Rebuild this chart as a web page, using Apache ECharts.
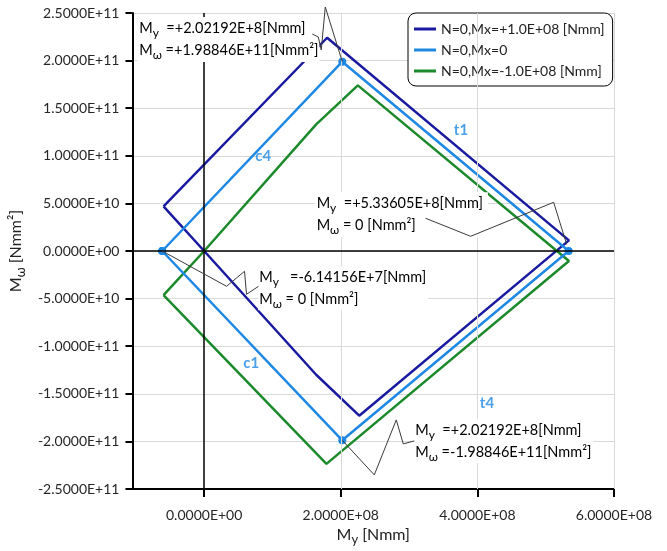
<!DOCTYPE html>
<html><head><meta charset="utf-8">
<script src="https://cdn.jsdelivr.net/npm/echarts@6/dist/echarts.min.js"></script>
<style>html,body{margin:0;padding:0;background:#fff}#c{width:667px;height:551px}</style>
</head><body><div id="c"></div>
<script>
// ---- data ----
const seriesNames = ['N=0,Mx=+1.0E+08 [Nmm]', 'N=0,Mx=0', 'N=0,Mx=-1.0E+08 [Nmm]'];
const mxPlusX  = [-5.95e7, 1.80e8, 5.34e8, 2.27e8, 1.64e8, 0, -5.95e7];
const mxPlusY  = [4.69e10, 2.24e11, 1.12e10, -1.73e11, -1.30e11, 0, 4.69e10];
const mxZeroX  = [-6.14156e7, 2.02192e8, 5.33605e8, 2.02192e8, -6.14156e7];
const mxZeroY  = [0, 1.98846e11, 0, -1.98846e11, 0];
const mxMinusX = [-5.95e7, 0, 1.64e8, 2.25e8, 5.34e8, 1.79e8, -5.95e7];
const mxMinusY = [-4.64e10, 0, 1.33e11, 1.74e11, -1.05e10, -2.236e11, -4.64e10];
const xTicks = [0, 2e8, 4e8, 6e8];
const xRange = [-1.05e8, 6e8];
const yRange = [-2.5e11, 2.5e11];
const yStep = 5e10;
const regionNames = ['t1', 'c4', 'c1', 't4'];
const regionX = [3.76e8, 0.866e8, 0.69e8, 4.14e8];
const regionY = [1.265e11, 0.993e11, -1.177e11, -1.597e11];

// ---- helpers ----
const font = 'Lato, "Liberation Sans", sans-serif';
const colors = ['#1a1aa0', '#1e88e5', '#1b8a2a'];
const toPairs = (xs, ys) => xs.map((x, i) => [x, ys[i]]);
function sci(v) {
  const s = Number(v).toExponential(4);
  let [m, e] = s.split('e');
  const sign = e[0] === '-' ? '-' : '+';
  let d = e.replace(/[+-]/, '');
  if (d.length < 2) d = '0' + d;
  return m + 'E' + sign + d;
}
const richBase = {
  m: { fontSize: 14.5, fontFamily: font, color: '#222', lineHeight: 22 },
  s: { fontSize: 12, fontFamily: font, color: '#222', lineHeight: 13, verticalAlign: 'bottom' }
};
const richName = {
  m: { fontSize: 16, fontFamily: font, color: '#222', lineHeight: 22 },
  s: { fontSize: 13, fontFamily: font, color: '#222', lineHeight: 13, verticalAlign: 'bottom' }
};

const chart = echarts.init(document.getElementById('c'));
const option = {
  animation: false,
  backgroundColor: '#fff',
  grid: { left: 131, right: 53, top: 13, bottom: 61, containLabel: false },
  legend: {
    data: seriesNames, orient: 'vertical', left: 408, top: 13,
    backgroundColor: '#fff', borderColor: '#000', borderWidth: 1, borderRadius: 8,
    padding: [8, 8, 7, 6], itemGap: 5, itemWidth: 22, itemHeight: 3, icon: 'rect',
    textStyle: { fontSize: 14, fontFamily: font, color: '#222', lineHeight: 16 }
  },
  xAxis: {
    type: 'value', min: xRange[0], max: xRange[1],
    axisLine: { onZero: false, lineStyle: { color: '#000', width: 2 } },
    axisTick: { show: true, customValues: xTicks, length: 8, lineStyle: { color: '#000', width: 2 } },
    axisLabel: { customValues: xTicks, formatter: sci, fontSize: 14, fontFamily: font, color: '#262626', margin: 19 },
    splitLine: { show: false },
    name: '{m|M}{s|y}{m| [Nmm]}', nameLocation: 'middle', nameGap: 35,
    nameTextStyle: { rich: richName }
  },
  yAxis: {
    type: 'value', min: yRange[0], max: yRange[1], interval: yStep,
    axisLine: { onZero: false, lineStyle: { color: '#000', width: 2 } },
    axisTick: { show: true, length: 7, lineStyle: { color: '#000', width: 2 } },
    axisLabel: { formatter: sci, fontSize: 14, fontFamily: font, color: '#262626', margin: 13 },
    splitLine: { show: true, lineStyle: { color: '#d9d9d9', width: 1 } },
    name: '{m|M}{s|ω}{m| [Nmm²]}', nameLocation: 'middle', nameGap: 96, nameRotate: 90,
    nameTextStyle: { rich: richName }
  },
  series: [
    {
      name: 'ref', type: 'line', data: [], z: 1, silent: true,
      markLine: {
        silent: true, symbol: 'none', label: { show: false }, animation: false,
        data: [
          ...xTicks.filter(v => v !== 0).map(v => ({ xAxis: v, lineStyle: { color: '#d9d9d9', width: 1, type: 'solid' } })),
          { xAxis: 0, lineStyle: { color: '#000', width: 1.5, type: 'solid' } },
          { yAxis: 0, lineStyle: { color: '#000', width: 1.5, type: 'solid' } }
        ]
      }
    },
    {
      name: seriesNames[0], type: 'line', data: toPairs(mxPlusX, mxPlusY), showSymbol: false, z: 3,
      lineStyle: { color: colors[0], width: 2.5 }, itemStyle: { color: colors[0] }
    },
    {
      name: seriesNames[1], type: 'line', data: toPairs(mxZeroX, mxZeroY), showSymbol: true,
      symbol: 'circle', symbolSize: 8, z: 4,
      lineStyle: { color: colors[1], width: 2.5 }, itemStyle: { color: colors[1] }
    },
    {
      name: seriesNames[2], type: 'line', data: toPairs(mxMinusX, mxMinusY), showSymbol: false, z: 3,
      lineStyle: { color: colors[2], width: 2.5 }, itemStyle: { color: colors[2] }
    },
    {
      name: 'regions', type: 'scatter', silent: true, symbolSize: 1, z: 5,
      itemStyle: { color: 'transparent' },
      data: regionNames.map((n, i) => ({ name: n, value: [regionX[i], regionY[i]] })),
      label: { show: true, position: 'inside', formatter: '{b}', color: colors[1], fontWeight: 'bold', fontSize: 15, fontFamily: font }
    }
  ]
};
chart.setOption(option);

// ---- callout annotations anchored on the light-blue vertices ----
const annotations = [
  { pt: [mxZeroX[1], mxZeroY[1]], sub: ['y', 'ω'], txt: ['  =+2.02192E+8[Nmm]', ' =+1.98846E+11[Nmm²]'],
    box: [-205, -44.7], pad: [0, 1, 1, 2],
    leader: [[-30, -27.7], [-24, -24.7], [-21, -11.7], [-17, -54.7], [0, 0]] },
  { pt: [mxZeroX[2], mxZeroY[2]], sub: ['y', 'ω'], txt: ['  =+5.33605E+8[Nmm]', ' = 0 [Nmm²]'],
    box: [-254, -58.7], pad: [0, 5, 1, 2],
    leader: [[-143, -32.7], [-98, -14.7], [-15, -48.7], [-2, -6.7]] },
  { pt: [mxZeroX[0], mxZeroY[0]], sub: ['y', 'ω'], txt: ['   =-6.14156E+7[Nmm]', ' = 0 [Nmm²]'],
    box: [96, 15.3], pad: [0, 2, 0, 1],
    leader: [[0, 0], [64.3, 35.3], [82.3, 20.3], [84.3, 43.3], [96.3, 35.3]] },
  { pt: [mxZeroX[3], mxZeroY[3]], sub: ['y', 'ω'], txt: ['  =+2.02192E+8[Nmm]', ' =-1.98846E+11[Nmm²]'],
    box: [72, -21.4], pad: [0, 2, 0, 1],
    leader: [[0, 0], [32, 34.6], [54, -20.4], [61, 3.6], [72, 0.6]] }
];
const graphics = [];
annotations.forEach(a => {
  const p = chart.convertToPixel({ gridIndex: 0 }, a.pt);
  graphics.push({
    type: 'text', x: p[0] + a.box[0], y: p[1] + a.box[1], z: 100, silent: true,
    style: {
      text: '{m|M}{s|' + a.sub[0] + '}{m|' + a.txt[0] + '}\n{m|M}{s|' + a.sub[1] + '}{m|' + a.txt[1] + '}',
      rich: richBase, backgroundColor: '#fff', padding: a.pad, textAlign: 'left', textVerticalAlign: 'top'
    }
  });
  graphics.push({
    type: 'polyline', z: 101, silent: true,
    shape: { points: a.leader.map(o => [p[0] + o[0], p[1] + o[1]]) },
    style: { stroke: '#3a3a3a', lineWidth: 1, fill: null }
  });
});
chart.setOption({ graphic: graphics });
</script>
</body></html>
